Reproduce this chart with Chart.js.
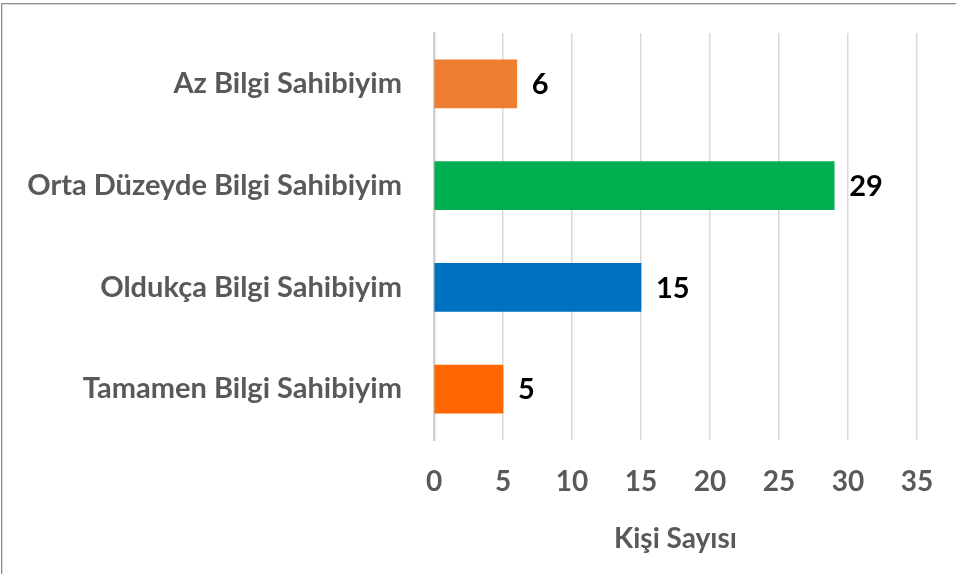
<!DOCTYPE html>
<html><head><meta charset="utf-8">
<script src="https://cdn.jsdelivr.net/npm/chart.js@4.4.1/dist/chart.umd.min.js"></script>
<style>
html,body{margin:0;padding:0;background:#fff;overflow:hidden}
#wrap{position:relative;width:956px;height:574px;overflow:hidden}
#frame{position:absolute;left:1px;top:3px;width:980px;height:600px;border-left:1px solid #8c8c8c;border-top:1px solid #8c8c8c;box-shadow:inset 1px 1px 0 #dcdcdc;pointer-events:none}
canvas{position:absolute;left:0;top:0}
</style></head>
<body><div id="wrap"><canvas id="c" width="956" height="574"></canvas><div id="frame"></div></div>
<script>
const categories = ['Az Bilgi Sahibiyim', 'Orta Düzeyde Bilgi Sahibiyim', 'Oldukça Bilgi Sahibiyim', 'Tamamen Bilgi Sahibiyim'];
const values = [6, 29, 15, 5];
const barColors = ['#ED7D31', '#00B050', '#0070C0', '#FF6600'];
const xMin = 0, xMax = 35, xStep = 5;
const xTitle = 'Kişi Sayısı';

const valueLabels = {
  id: 'valueLabels',
  afterDatasetsDraw(chart) {
    const ctx = chart.ctx;
    const meta = chart.getDatasetMeta(0);
    ctx.save();
    ctx.font = 'bold 29px Lato';
    ctx.fillStyle = '#000000';
    ctx.textAlign = 'left';
    ctx.textBaseline = 'middle';
    meta.data.forEach((bar, i) => {
      ctx.fillText(String(values[i]), bar.x + 15, bar.y + 1);
    });
    ctx.restore();
  }
};

new Chart(document.getElementById('c'), {
  type: 'bar',
  data: {
    labels: categories,
    datasets: [{
      data: values,
      backgroundColor: barColors,
      borderWidth: 0,
      barThickness: 48
    }]
  },
  options: {
    indexAxis: 'y',
    responsive: false,
    animation: false,
    layout: { padding: { top: 33, right: 39, left: 0, bottom: 0 } },
    plugins: { legend: { display: false }, tooltip: { enabled: false } },
    scales: {
      x: {
        min: xMin, max: xMax,
        ticks: { stepSize: xStep, padding: 25, color: '#595959', font: { family: 'Lato', size: 28, weight: 'bold' } },
        grid: { color: '#d9d9d9', lineWidth: 1.5, drawTicks: false },
        border: { display: false },
        title: { display: true, text: xTitle, color: '#595959', font: { family: 'Lato', size: 28, weight: 'bold' }, padding: { top: 0, bottom: 18 } },
        afterFit(scale) { scale.height = 134; scale.paddingLeft = 0; scale.paddingRight = 0; }
      },
      y: {
        ticks: { padding: 32, color: '#595959', font: { family: 'Lato', size: 29, weight: 'bold' } },
        grid: { display: false, drawTicks: false },
        border: { display: true, color: '#d0d0d0', width: 2.5 },
        afterFit(scale) { scale.width = 434; scale.paddingTop = 0; scale.paddingBottom = 0; }
      }
    }
  },
  plugins: [valueLabels]
});
</script>
</body></html>
